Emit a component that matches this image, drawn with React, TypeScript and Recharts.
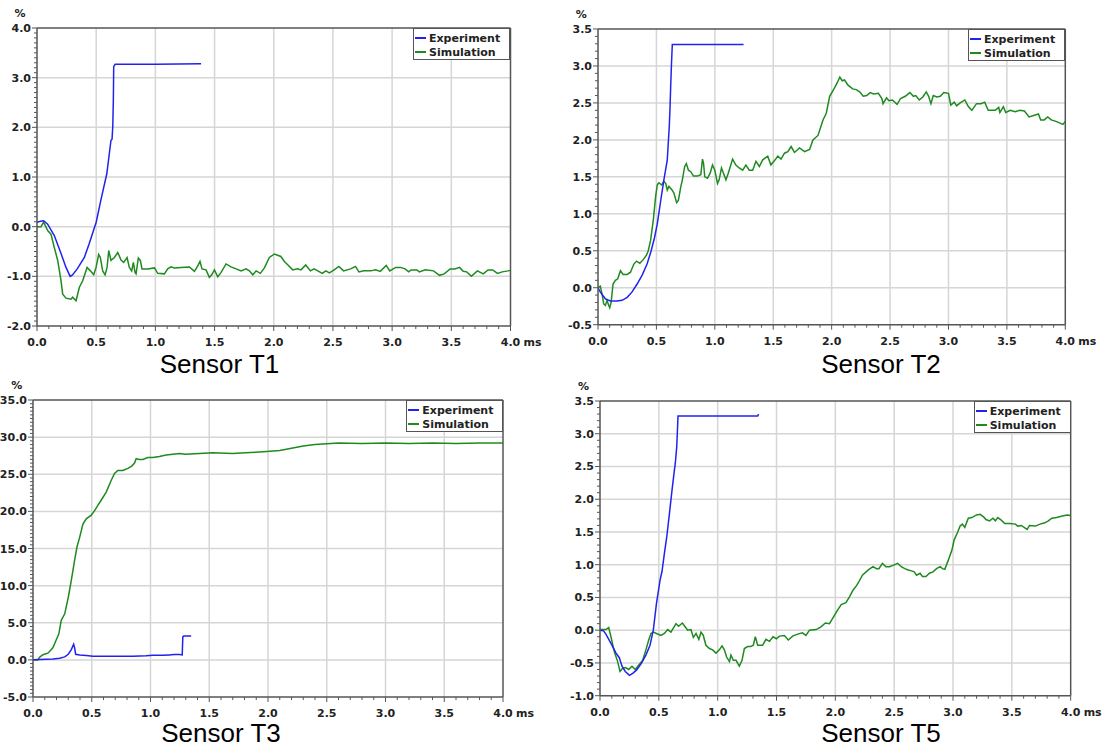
import React from 'react';
import { LineChart, Line, XAxis, YAxis, ReferenceLine, Legend } from 'recharts';

type Pt = [number, number];

// ---------- Sensor T1 ----------
const t1Experiment: Pt[] = [
  [0, 0.09], [0.03, 0.11], [0.056, 0.12], [0.09, 0.05], [0.146, -0.18], [0.2, -0.52], [0.245, -0.82],
  [0.28, -1.0], [0.3, -0.97], [0.34, -0.85], [0.4, -0.62], [0.44, -0.35], [0.5, 0.09], [0.54, 0.54],
  [0.59, 1.07], [0.625, 1.74], [0.634, 1.76], [0.64, 2.01], [0.645, 2.55], [0.648, 3.22], [0.66, 3.27],
  [1.0, 3.27], [1.386, 3.28],
];
const t1Simulation: Pt[] = [
  [0, 0], [0.034, 0], [0.056, 0.09], [0.09, -0.08], [0.118, -0.15], [0.146, -0.42], [0.175, -0.68],
  [0.203, -1.09], [0.217, -1.36], [0.245, -1.44], [0.287, -1.46], [0.301, -1.42], [0.33, -1.49],
  [0.358, -1.22], [0.386, -1.09], [0.423, -0.82], [0.451, -0.89], [0.479, -0.97], [0.499, -0.82],
  [0.521, -0.56], [0.535, -0.62], [0.555, -0.89], [0.575, -0.97], [0.592, -0.82], [0.606, -0.48],
  [0.625, -0.68], [0.654, -0.62], [0.682, -0.52], [0.71, -0.67], [0.732, -0.72], [0.761, -0.62],
  [0.78, -0.82], [0.8, -0.89], [0.814, -0.72], [0.828, -0.92], [0.837, -0.95], [0.856, -0.63],
  [0.873, -0.68], [0.887, -0.85], [0.935, -0.85], [0.992, -0.83], [1.02, -0.94], [1.076, -0.95],
  [1.104, -0.85], [1.132, -0.81], [1.16, -0.83], [1.217, -0.82], [1.287, -0.81], [1.33, -0.9],
  [1.358, -0.79], [1.377, -0.7], [1.394, -0.85], [1.428, -0.87], [1.456, -1.02], [1.476, -0.97],
  [1.499, -0.87], [1.527, -1.01], [1.555, -0.92], [1.597, -0.75], [1.639, -0.81], [1.682, -0.85],
  [1.724, -0.89], [1.766, -0.85], [1.794, -0.89], [1.823, -0.97], [1.851, -0.89], [1.887, -0.94],
  [1.921, -0.83], [1.963, -0.62], [2.006, -0.55], [2.06, -0.6], [2.09, -0.7], [2.12, -0.77],
  [2.16, -0.87], [2.2, -0.85], [2.23, -0.87], [2.27, -0.77], [2.31, -0.89], [2.34, -0.85],
  [2.38, -0.9], [2.41, -0.94], [2.44, -0.89], [2.47, -0.93], [2.51, -0.87], [2.55, -0.8],
  [2.59, -0.89], [2.65, -0.85], [2.69, -0.8], [2.72, -0.91], [2.76, -0.89], [2.82, -0.89],
  [2.86, -0.87], [2.9, -0.9], [2.95, -0.78], [2.98, -0.89], [3.03, -0.82], [3.07, -0.82],
  [3.11, -0.85], [3.14, -0.91], [3.16, -0.87], [3.21, -0.87], [3.23, -0.91], [3.28, -0.87],
  [3.35, -0.89], [3.4, -0.98], [3.44, -0.95], [3.49, -0.85], [3.53, -0.85], [3.57, -0.82],
  [3.6, -0.9], [3.63, -0.91], [3.67, -1.0], [3.72, -0.89], [3.77, -0.95], [3.81, -0.87],
  [3.85, -0.87], [3.89, -0.94], [3.93, -0.91], [3.98, -0.89], [4.0, -0.88],
];

// ---------- Sensor T2 ----------
const t2Experiment: Pt[] = [
  [0, 0], [0.02, -0.06], [0.063, -0.15], [0.106, -0.18], [0.163, -0.18], [0.206, -0.17], [0.25, -0.13],
  [0.29, -0.06], [0.335, 0.05], [0.378, 0.17], [0.42, 0.32], [0.455, 0.5], [0.484, 0.68], [0.507, 0.86],
  [0.536, 1.17], [0.564, 1.46], [0.593, 1.73], [0.61, 2.18], [0.616, 2.41], [0.622, 2.72],
  [0.628, 2.99], [0.636, 3.29], [1.0, 3.29], [1.246, 3.29],
];
const t2Simulation: Pt[] = [
  [0, 0], [0.02, 0.02], [0.034, -0.08], [0.049, -0.22], [0.063, -0.24], [0.077, -0.17], [0.092, -0.24],
  [0.1, -0.27], [0.112, -0.2], [0.129, 0.05], [0.149, 0.1], [0.169, 0.12], [0.192, 0.23], [0.215, 0.18],
  [0.25, 0.18], [0.278, 0.21], [0.307, 0.32], [0.33, 0.36], [0.358, 0.33], [0.387, 0.38], [0.415, 0.44],
  [0.43, 0.5], [0.45, 0.64], [0.473, 0.91], [0.493, 1.23], [0.507, 1.39], [0.52, 1.42], [0.545, 1.39],
  [0.564, 1.44], [0.58, 1.41], [0.593, 1.32], [0.607, 1.37], [0.63, 1.33], [0.65, 1.28], [0.673, 1.15],
  [0.688, 1.18], [0.708, 1.36], [0.722, 1.46], [0.742, 1.64], [0.756, 1.68], [0.774, 1.59],
  [0.794, 1.57], [0.817, 1.51], [0.851, 1.51], [0.88, 1.53], [0.894, 1.74], [0.903, 1.69], [0.914, 1.5],
  [0.937, 1.48], [0.96, 1.55], [0.98, 1.66], [1.0, 1.59], [1.023, 1.41], [1.037, 1.46], [1.057, 1.62],
  [1.074, 1.55], [1.095, 1.46], [1.115, 1.55], [1.152, 1.74], [1.18, 1.66], [1.209, 1.62],
  [1.238, 1.59], [1.266, 1.66], [1.295, 1.59], [1.324, 1.59], [1.352, 1.71], [1.381, 1.64],
  [1.41, 1.73], [1.453, 1.78], [1.48, 1.66], [1.516, 1.73], [1.539, 1.78], [1.567, 1.74],
  [1.596, 1.82], [1.625, 1.84], [1.653, 1.91], [1.682, 1.83], [1.725, 1.89], [1.768, 1.84],
  [1.811, 1.87], [1.84, 2.0], [1.883, 2.06], [1.926, 2.27], [1.954, 2.36], [1.983, 2.59],
  [2.02, 2.69], [2.05, 2.78], [2.07, 2.85], [2.09, 2.8], [2.11, 2.81], [2.14, 2.74], [2.18, 2.69],
  [2.21, 2.68], [2.24, 2.65], [2.27, 2.59], [2.3, 2.6], [2.33, 2.64], [2.36, 2.62], [2.4, 2.63],
  [2.43, 2.56], [2.44, 2.49], [2.47, 2.57], [2.49, 2.53], [2.52, 2.54], [2.56, 2.48], [2.59, 2.56],
  [2.63, 2.59], [2.67, 2.64], [2.7, 2.59], [2.72, 2.6], [2.75, 2.54], [2.78, 2.58], [2.81, 2.65],
  [2.83, 2.59], [2.85, 2.49], [2.87, 2.6], [2.9, 2.58], [2.93, 2.59], [2.96, 2.64], [3.0, 2.63],
  [3.02, 2.47], [3.05, 2.51], [3.07, 2.46], [3.1, 2.5], [3.14, 2.54], [3.17, 2.45], [3.2, 2.4],
  [3.24, 2.49], [3.28, 2.49], [3.31, 2.51], [3.34, 2.4], [3.4, 2.4], [3.43, 2.44], [3.44, 2.37],
  [3.47, 2.45], [3.49, 2.37], [3.53, 2.4], [3.57, 2.38], [3.61, 2.4], [3.65, 2.39], [3.69, 2.31],
  [3.73, 2.33], [3.77, 2.35], [3.79, 2.27], [3.82, 2.27], [3.85, 2.31], [3.88, 2.27], [3.92, 2.25],
  [3.95, 2.23], [3.98, 2.21], [4.0, 2.25],
];

// ---------- Sensor T3 ----------
const t3Experiment: Pt[] = [
  [0, 0], [0.057, 0.05], [0.113, 0.1], [0.17, 0.13], [0.227, 0.22], [0.27, 0.4], [0.3, 0.76],
  [0.326, 1.38], [0.346, 2.1], [0.354, 1.65], [0.363, 0.76], [0.397, 0.67], [0.453, 0.58],
  [0.51, 0.49], [0.85, 0.49], [0.963, 0.54], [1.02, 0.63], [1.105, 0.63], [1.16, 0.67], [1.2, 0.71],
  [1.246, 0.71], [1.27, 0.67], [1.275, 3.1], [1.283, 3.2], [1.346, 3.2],
];
const t3Simulation: Pt[] = [
  [0, 0], [0.04, 0], [0.06, 0.4], [0.085, 0.7], [0.13, 0.94], [0.17, 1.65], [0.19, 2.4], [0.22, 3.5],
  [0.24, 5.3], [0.27, 6.2], [0.3, 8.4], [0.326, 10.7], [0.354, 13.4], [0.374, 15.2], [0.397, 16.5],
  [0.425, 18.3], [0.453, 19.0], [0.496, 19.5], [0.524, 20.1], [0.552, 20.8], [0.58, 21.5],
  [0.623, 22.6], [0.666, 24.2], [0.694, 25.1], [0.722, 25.5], [0.765, 25.5], [0.807, 25.8],
  [0.84, 26.1], [0.864, 26.5], [0.878, 27.1], [0.906, 27.0], [0.935, 27.0], [0.977, 27.25],
  [1.02, 27.25], [1.076, 27.4], [1.133, 27.6], [1.19, 27.7], [1.246, 27.8], [1.3, 27.7], [1.416, 27.8],
  [1.53, 27.9], [1.7, 27.8], [1.81, 27.9], [1.93, 28.0], [2.1, 28.2], [2.2, 28.5], [2.3, 28.8],
  [2.4, 29.0], [2.5, 29.1], [2.6, 29.2], [2.8, 29.15], [3.0, 29.2], [3.2, 29.15], [3.4, 29.2],
  [3.6, 29.15], [3.8, 29.2], [4.0, 29.2],
];

// ---------- Sensor T5 ----------
const t5Experiment: Pt[] = [
  [0, 0], [0.03, -0.01], [0.05, -0.06], [0.093, -0.2], [0.136, -0.35], [0.164, -0.42], [0.187, -0.55],
  [0.215, -0.63], [0.25, -0.69], [0.278, -0.66], [0.31, -0.61], [0.35, -0.51], [0.39, -0.38],
  [0.425, -0.23], [0.453, 0.0], [0.48, 0.41], [0.51, 0.76], [0.527, 0.9], [0.547, 1.17], [0.567, 1.42],
  [0.59, 1.78], [0.612, 2.14], [0.632, 2.44], [0.64, 2.55], [0.652, 2.8], [0.657, 3.0], [0.663, 3.27],
  [1.0, 3.27], [1.34, 3.27], [1.348, 3.3],
];
const t5Simulation: Pt[] = [
  [0, 0.01], [0.05, 0.01], [0.074, 0.04], [0.093, -0.1], [0.122, -0.33], [0.15, -0.48], [0.17, -0.63],
  [0.193, -0.58], [0.215, -0.57], [0.244, -0.6], [0.272, -0.55], [0.3, -0.6], [0.33, -0.53],
  [0.363, -0.46], [0.39, -0.3], [0.414, -0.15], [0.433, -0.05], [0.453, -0.03], [0.48, -0.05],
  [0.518, -0.08], [0.547, -0.05], [0.575, 0.01], [0.603, -0.03], [0.623, 0.03], [0.646, 0.1],
  [0.668, 0.06], [0.7, 0.11], [0.725, 0.05], [0.745, 0.0], [0.773, 0.01], [0.793, -0.11], [0.816, -0.05],
  [0.84, -0.14], [0.858, -0.03], [0.878, -0.08], [0.9, -0.23], [0.93, -0.28], [0.957, -0.3],
  [0.986, -0.35], [1.014, -0.3], [1.037, -0.24], [1.057, -0.3], [1.076, -0.41], [1.1, -0.48],
  [1.113, -0.38], [1.133, -0.46], [1.156, -0.46], [1.184, -0.55], [1.207, -0.46], [1.227, -0.28],
  [1.255, -0.25], [1.28, -0.25], [1.303, -0.23], [1.32, -0.1], [1.34, -0.23], [1.382, -0.23],
  [1.41, -0.14], [1.44, -0.17], [1.47, -0.1], [1.5, -0.13], [1.524, -0.09], [1.567, -0.08], [1.6, -0.15],
  [1.637, -0.09], [1.68, -0.06], [1.72, -0.04], [1.75, -0.08], [1.78, 0.0], [1.836, 0.01],
  [1.878, 0.05], [1.915, 0.11], [1.95, 0.1], [2.0, 0.25], [2.02, 0.31], [2.05, 0.39], [2.09, 0.42],
  [2.12, 0.51], [2.15, 0.61], [2.18, 0.68], [2.2, 0.74], [2.23, 0.84], [2.28, 0.92], [2.32, 0.97],
  [2.35, 0.94], [2.37, 0.94], [2.4, 1.02], [2.43, 0.97], [2.46, 0.97], [2.49, 0.99], [2.53, 1.02],
  [2.56, 0.97], [2.59, 0.94], [2.62, 0.92], [2.64, 0.91], [2.67, 0.89], [2.69, 0.84], [2.72, 0.87],
  [2.74, 0.82], [2.77, 0.82], [2.8, 0.87], [2.83, 0.89], [2.86, 0.94], [2.89, 0.97], [2.91, 0.94],
  [2.93, 0.93], [2.96, 1.07], [2.99, 1.22], [3.01, 1.38], [3.04, 1.5], [3.06, 1.59], [3.08, 1.62],
  [3.1, 1.57], [3.13, 1.71], [3.16, 1.72], [3.2, 1.76], [3.23, 1.77], [3.26, 1.73], [3.28, 1.69],
  [3.31, 1.67], [3.34, 1.71], [3.36, 1.67], [3.38, 1.72], [3.41, 1.68], [3.44, 1.63], [3.48, 1.63],
  [3.53, 1.62], [3.55, 1.59], [3.58, 1.6], [3.63, 1.54], [3.65, 1.6], [3.7, 1.59], [3.74, 1.62],
  [3.78, 1.64], [3.81, 1.67], [3.84, 1.71], [3.88, 1.72], [3.92, 1.74], [3.97, 1.76], [4.0, 1.75],
];

const xMajorTicks = [0, 0.5, 1.0, 1.5, 2.0, 2.5, 3.0, 3.5, 4.0];
const seriesNames = ['Experiment', 'Simulation'];
const titles = ['Sensor T1', 'Sensor T2', 'Sensor T3', 'Sensor T5'];

const BLUE = '#2222ee';
const GREEN = '#1f8a1f';
const AXIS = '#555555';
const GRID = '#d6d6d6';
const TICK_FONT = '"DejaVu Sans", Verdana, sans-serif';

const range = (a: number, b: number, step: number) => {
  const out: number[] = [];
  const n = Math.round((b - a) / step);
  for (let i = 0; i <= n; i++) out.push(Math.round((a + i * step) * 1000) / 1000);
  return out;
};
const isMajor = (v: number, step: number) => Math.abs(v / step - Math.round(v / step)) < 1e-6;

type PanelProps = {
  plot: { x: number; y: number; w: number; h: number };
  yMin: number; yMax: number; yMajor: number; yMinor: number;
  experiment: Pt[]; simulation: Pt[];
  title: string; titleX: number; titleY: number;
  legend: boolean;
};

const ML = 40, MT = 25, MR = 45, MB = 35;

const LegendBox = () => (
  <div style={{ border: `1px solid ${AXIS}`, background: '#fff', width: 97, height: 32, boxSizing: 'border-box', padding: '2px 0 0 1px', fontFamily: TICK_FONT, fontWeight: 'bold', fontSize: 11, color: '#222' }}>
    {seriesNames.map((n, i) => (
      <div key={n} style={{ display: 'flex', alignItems: 'center', height: 14 }}>
        <span style={{ display: 'inline-block', width: 11, height: 2, background: i === 0 ? BLUE : GREEN, marginRight: 3 }} />
        <span>{n}</span>
      </div>
    ))}
  </div>
);

const Panel = (p: PanelProps) => {
  const W = ML + p.plot.w + MR;
  const H = MT + p.plot.h + MB;
  const xTicks = range(0, 4, 0.1);
  const yTicks = range(p.yMin, p.yMax, p.yMinor);
  const xGrid = xMajorTicks.slice(1, -1);
  const yGrid = range(p.yMin, p.yMax, p.yMajor).slice(1, -1);
  const expData = p.experiment.map(([t, v]) => ({ t, v }));
  const simData = p.simulation.map(([t, v]) => ({ t, v }));

  const XTick = (props: any) => {
    const { x, y, payload } = props;
    const v = payload.value as number;
    const major = isMajor(v, 0.5);
    return (
      <g>
        <line x1={x} x2={x} y1={y} y2={y + (major ? 5 : 3)} stroke={AXIS} strokeWidth={1} />
        {major && (
          <text x={x} y={y + 20} textAnchor="middle" fontFamily={TICK_FONT} fontWeight="bold" fontSize={11} fill="#222">
            {v.toFixed(1)}
          </text>
        )}
        {major && v === 4 && (
          <text x={x + 13} y={y + 20} textAnchor="start" fontFamily={TICK_FONT} fontWeight="bold" fontSize={11} fill="#222">ms</text>
        )}
      </g>
    );
  };
  const YTick = (props: any) => {
    const { x, y, payload } = props;
    const v = payload.value as number;
    const major = isMajor(v, p.yMajor);
    return (
      <g>
        <line x1={x - (major ? 5 : 3)} x2={x} y1={y} y2={y} stroke={AXIS} strokeWidth={1} />
        {major && (
          <text x={x - 6} y={y + 4} textAnchor="end" fontFamily={TICK_FONT} fontWeight="bold" fontSize={11} fill="#222">
            {v.toFixed(1)}
          </text>
        )}
      </g>
    );
  };

  return (
    <>
      <div style={{ position: 'absolute', left: p.plot.x - ML, top: p.plot.y - MT }}>
        <LineChart width={W} height={H} margin={{ top: MT, right: MR, bottom: 0, left: 0 }}>
          <XAxis dataKey="t" type="number" domain={[0, 4]} ticks={xTicks} interval={0} allowDataOverflow
            height={MB} tickSize={0} tickMargin={0} tickLine={false} tick={<XTick />}
            axisLine={{ stroke: AXIS, strokeWidth: 1.5 }} />
          <YAxis type="number" domain={[p.yMin, p.yMax]} ticks={yTicks} interval={0} allowDataOverflow
            width={ML} tickSize={0} tickMargin={0} tickLine={false} tick={<YTick />}
            axisLine={{ stroke: AXIS, strokeWidth: 1.5 }} />
          {xGrid.map((g) => (
            <ReferenceLine key={'x' + g} x={g} stroke={GRID} strokeWidth={1.5} />
          ))}
          {yGrid.map((g) => (
            <ReferenceLine key={'y' + g} y={g} stroke={GRID} strokeWidth={1.5} />
          ))}
          <ReferenceLine x={4} stroke={AXIS} strokeWidth={1.5} />
          <ReferenceLine y={p.yMax} stroke={AXIS} strokeWidth={1.5} />
          <Line data={simData} dataKey="v" name={seriesNames[1]} stroke={GREEN} strokeWidth={1.5} dot={false} isAnimationActive={false} />
          <Line data={expData} dataKey="v" name={seriesNames[0]} stroke={BLUE} strokeWidth={1.5} dot={false} isAnimationActive={false} />
          {p.legend && (
            <Legend layout="vertical" align="center" verticalAlign="middle" content={() => <LegendBox />}
              wrapperStyle={{ top: MT, left: ML + p.plot.w - 97, width: 97, height: 32 }} />
          )}
        </LineChart>
      </div>
      <div style={{ position: 'absolute', left: p.plot.x - 22, top: p.plot.y - 21, fontFamily: TICK_FONT, fontWeight: 'bold', fontSize: 11, color: '#222' }}>%</div>
      <div style={{ position: 'absolute', left: p.titleX - 100, width: 200, top: p.titleY - 24, textAlign: 'center', fontFamily: '"Liberation Sans", Arial, sans-serif', fontSize: 26, lineHeight: '30px', color: '#000' }}>
        {p.title}
      </div>
    </>
  );
};

export default function App() {
  return (
    <div style={{ position: 'absolute', left: 0, top: 0, width: 1105, height: 749, background: '#fff', overflow: 'hidden' }}>
      <Panel plot={{ x: 36.5, y: 28, w: 473.5, h: 298 }} yMin={-2} yMax={4} yMajor={1} yMinor={0.1}
        experiment={t1Experiment} simulation={t1Simulation} title={titles[0]} titleX={219.5} titleY={373} legend />
      <Panel plot={{ x: 597.7, y: 29.3, w: 467.3, h: 295.7 }} yMin={-0.5} yMax={3.5} yMajor={0.5} yMinor={0.1}
        experiment={t2Experiment} simulation={t2Simulation} title={titles[1]} titleX={881} titleY={373} legend />
      <Panel plot={{ x: 33.3, y: 400, w: 470, h: 297 }} yMin={-5} yMax={35} yMajor={5} yMinor={0.5}
        experiment={t3Experiment} simulation={t3Simulation} title={titles[2]} titleX={221} titleY={742} legend />
      <Panel plot={{ x: 600, y: 401, w: 470.7, h: 294.7 }} yMin={-1} yMax={3.5} yMajor={0.5} yMinor={0.1}
        experiment={t5Experiment} simulation={t5Simulation} title={titles[3]} titleX={881} titleY={742} legend />
    </div>
  );
}
